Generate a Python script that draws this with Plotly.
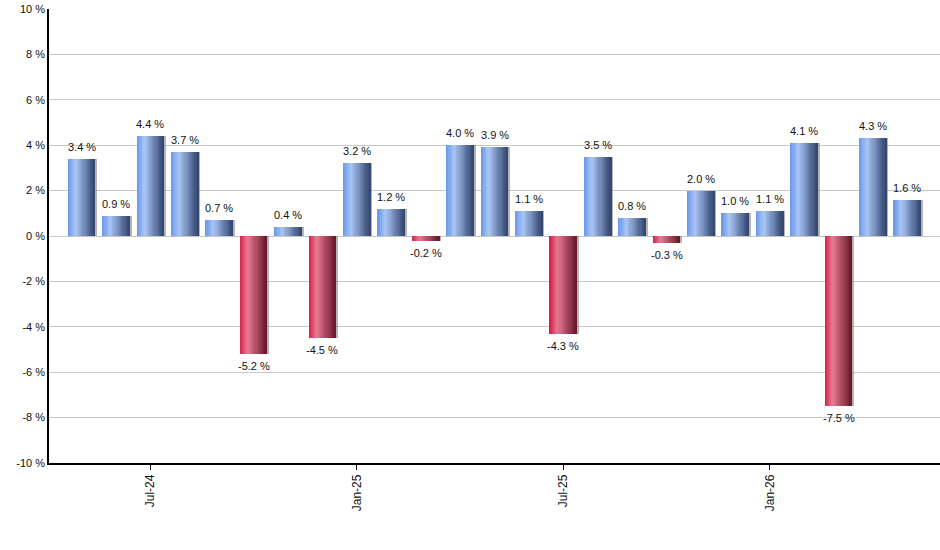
import plotly.graph_objects as go

months = ["May-24", "Jun-24", "Jul-24", "Aug-24", "Sep-24", "Oct-24", "Nov-24", "Dec-24",
          "Jan-25", "Feb-25", "Mar-25", "Apr-25", "May-25", "Jun-25", "Jul-25", "Aug-25",
          "Sep-25", "Oct-25", "Nov-25", "Dec-25", "Jan-26", "Feb-26", "Mar-26", "Apr-26", "May-26"]
values = [3.4, 0.9, 4.4, 3.7, 0.7, -5.2, 0.4, -4.5, 3.2, 1.2, -0.2, 4.0, 3.9, 1.1, -4.3,
          3.5, 0.8, -0.3, 2.0, 1.0, 1.1, 4.1, -7.5, 4.3, 1.6]
tick_labels = ["Jul-24", "Jan-25", "Jul-25", "Jan-26"]
y_ticks = [-10, -8, -6, -4, -2, 0, 2, 4, 6, 8, 10]

x = list(range(len(values)))
tick_pos = [months.index(t) for t in tick_labels]

blue_stops = [(0.0, (104, 150, 232)), (0.3, (170, 198, 246)), (1.0, (48, 68, 110))]
red_stops = [(0.0, (216, 30, 72)), (0.3, (230, 122, 145)), (1.0, (104, 22, 40))]


def interp(stops, t):
    for (t0, c0), (t1, c1) in zip(stops[:-1], stops[1:]):
        if t0 <= t <= t1:
            f = (t - t0) / (t1 - t0) if t1 > t0 else 0
            return "rgb(%d,%d,%d)" % tuple(round(a + (b - a) * f) for a, b in zip(c0, c1))
    return "rgb(%d,%d,%d)" % stops[-1][1]


W = 0.78
N = 24
fig = go.Figure()

# shadow
fig.add_trace(go.Bar(x=x, y=values, width=W, offset=-W / 2 + 0.06,
                     marker=dict(color="rgba(120,120,120,0.55)", line=dict(width=0)),
                     hoverinfo="skip", showlegend=False))

sw = W / N
for i in range(N):
    t = (i + 0.5) / N
    cols = [interp(blue_stops, t) if v >= 0 else interp(red_stops, t) for v in values]
    fig.add_trace(go.Bar(x=x, y=values, width=sw * 1.08, offset=-W / 2 + i * sw,
                         marker=dict(color=cols, line=dict(width=0)),
                         hoverinfo="skip", showlegend=False))

# value labels
for xi, v in zip(x, values):
    fig.add_annotation(x=xi, y=v, text="%.1f %%" % v, showarrow=False,
                       xanchor="center", yanchor="bottom" if v >= 0 else "top",
                       yshift=4 if v >= 0 else -4,
                       font=dict(family="Liberation Sans, Arial", size=11, color="#111"))

fig.update_layout(
    width=940, height=550,
    margin=dict(l=49, r=0, t=9, b=87),
    barmode="overlay", bargap=0,
    plot_bgcolor="white", paper_bgcolor="white",
    font=dict(family="Liberation Sans, Arial", size=11, color="#111"),
    xaxis=dict(range=[-0.95, 24.95], tickmode="array", tickvals=tick_pos, ticktext=tick_labels,
               tickangle=-90, ticks="outside", ticklen=5, tickcolor="black",
               tickfont=dict(size=12),
               showline=True, linecolor="black", linewidth=1.5, showgrid=False, zeroline=False,
               automargin=False),
    yaxis=dict(range=[-10, 10], tickmode="array", tickvals=y_ticks,
               ticktext=["%d %%" % v for v in y_ticks],
               showline=True, linecolor="black", linewidth=1.5, showgrid=True,
               gridcolor="#c8c8c8", gridwidth=1, zeroline=False, ticks="",
               ticklabeloverflow="allow", automargin=False),
)

fig.write_html("out.html", config={"displayModeBar": False},
               post_script="document.body.style.margin='0';document.body.style.overflow='hidden';")
